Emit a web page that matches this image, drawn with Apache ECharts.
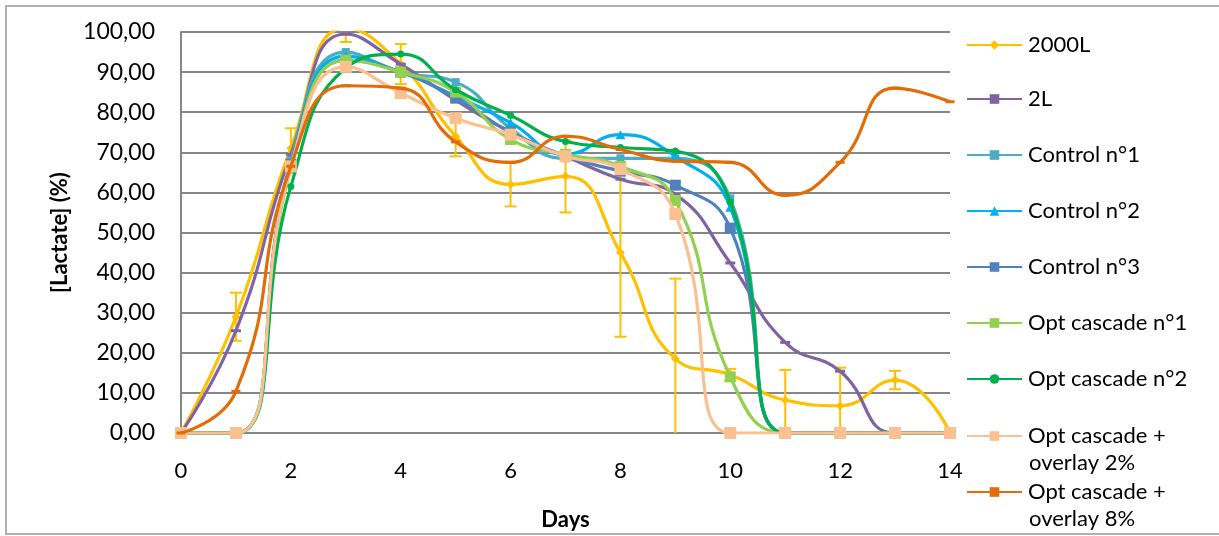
<!DOCTYPE html>
<html>
<head>
<meta charset="utf-8">
<script src="https://cdn.jsdelivr.net/npm/echarts@6/dist/echarts.min.js"></script>
<style>html,body{margin:0;padding:0;background:#fff}#c{width:1219px;height:536px}</style>
</head>
<body>
<div id="c"></div>
<script>
const days = [0,1,2,3,4,5,6,7,8,9,10,11,12,13,14];
const xTicks = [0,2,4,6,8,10,12,14];
const seriesNames = ['2000L','2L','Control n°1','Control n°2','Control n°3','Opt cascade n°1','Opt cascade n°2','Opt cascade +\noverlay 2%','Opt cascade +\noverlay 8%'];
const v2000L   = [0,29,71,101,92,74,62,64,45,18.5,14.5,8.2,6.8,13.2,0];
const err2000L = [0,6,5,3.5,5,5,5.5,9,21,20,1.5,7.5,9.5,2.3,0];
const v2L      = [0,25.5,69.5,99.5,92,83,75,69,63.3,59.5,42.4,22.6,15.4,0,0];
const vCtrl1   = [0,0,68,95,90,87.5,76,68.5,68.5,68.5,58.5,0,0,0,0];
const vCtrl2   = [0,0,67,94,90,84,77.4,69.5,74.4,69,56.3,0,0,0,0];
const vCtrl3   = [0,0,67,93,90,83.5,75,69,65.3,61.8,51.1,0,0,0,0];
const vOpt1    = [0,0,66,93,90,85,73.2,69.5,66.5,58,14,0,0,0,0];
const vOpt2    = [0,0,61.5,91,94.5,85.6,79.2,72.7,71.2,70.3,57.6,0,0,0,0];
const vOvl2    = [0,0,66.5,91.3,84.8,78.5,74.4,69,65.8,54.6,0,0,0,0,0];
const vOvl8    = [0,10.4,66.5,86.6,86,72.6,67.5,74,70.7,67.8,67.5,59.3,67.5,86,82.6];

const colors = ['#FFC000','#8064A2','#4BACC6','#00B0F0','#4F81BD','#92D050','#00B050','#FAC090','#E36C09'];
const values = [v2000L,v2L,vCtrl1,vCtrl2,vCtrl3,vOpt1,vOpt2,vOvl2,vOvl8];
const symbols = ['diamond','rect','rect','triangle','rect','rect','circle','rect','rect'];
const symSizes = [[9,9],[10,3],[8,8],[10,9],[11,11],[11,11],[7,7],[12,12],[9,3]];

const FONT = 'Lato';
const pairs = v => days.map((d,i)=>[d, v[i]]);

const series = values.map((v,i)=>({
  name: seriesNames[i].replace('\n',' '),
  type: 'line',
  smooth: 0.5,
  data: pairs(v),
  symbol: symbols[i],
  symbolSize: symSizes[i],
  showSymbol: true,
  color: colors[i],
  lineStyle: {width: 3.2, color: colors[i]},
  itemStyle: {color: colors[i]},
  z: 3 + i,
  emphasis: {disabled: true}
}));

series.push({
  name: 'err',
  type: 'custom',
  z: 2,
  data: days.map((d,i)=>[d, v2000L[i]-err2000L[i], v2000L[i]+err2000L[i]]).filter((r,i)=>err2000L[i]>0),
  renderItem: function(params, api){
    const x = api.value(0);
    const loRaw = api.value(1), hiRaw = api.value(2);
    const lo = api.coord([x, Math.max(loRaw,0)]);
    const hi = api.coord([x, Math.min(hiRaw,100)]);
    const c = [];
    const st = {stroke:'#FFC000', lineWidth: 2};
    c.push({type:'line', shape:{x1:lo[0],y1:lo[1],x2:hi[0],y2:hi[1]}, style:st});
    if (hiRaw <= 100) c.push({type:'line', shape:{x1:hi[0]-6,y1:hi[1],x2:hi[0]+6,y2:hi[1]}, style:st});
    if (loRaw >= 0) c.push({type:'line', shape:{x1:lo[0]-6,y1:lo[1],x2:lo[0]+6,y2:lo[1]}, style:st});
    return {type:'group', children:c};
  },
  silent: true
});

const legendCenters = [47,101,157,213,269,325,381,438,494];
const legends = seriesNames.map((n,i)=>({
  data: [n.replace('\n',' ')],
  left: 966,
  top: legendCenters[i]-13,
  orient: 'vertical',
  padding: 0,
  itemWidth: 55,
  itemHeight: 12,
  itemGap: 6,
  formatter: () => n.split('\n')[0],
  textStyle: {fontFamily: FONT, fontSize: 22, color:'#000', padding:[0,0,0,1]},
  selectedMode: false
}));

const chart = echarts.init(document.getElementById('c'));
chart.setOption({
  animation: false,
  backgroundColor: '#fff',
  grid: {left: 181, right: 269, top: 32, bottom: 101},
  xAxis: {
    type: 'value', min: 0, max: 14, interval: 2,
    name: 'Days', nameLocation: 'middle', nameGap: 76,
    nameTextStyle: {fontFamily: FONT, fontSize: 22, fontWeight: 'bold', color:'#000'},
    axisLine: {show: false},
    axisTick: {show: false},
    splitLine: {show: false},
    axisLabel: {fontFamily: FONT, fontSize: 22, color:'#000', margin: 27,
      customValues: xTicks}
  },
  yAxis: {
    type: 'value', min: 0, max: 100, interval: 10,
    name: '[Lactate] (%)', nameLocation: 'middle', nameGap: 110,
    nameTextStyle: {fontFamily: FONT, fontSize: 22, fontWeight: 'bold', color:'#000'},
    axisLine: {show: true, lineStyle: {color:'#868686', width: 2}},
    axisTick: {show: false},
    splitLine: {show: true, lineStyle: {color:'#868686', width: 2}},
    axisLabel: {fontFamily: FONT, fontSize: 23, color:'#000', margin: 26,
      formatter: v => v.toFixed(2).replace('.', ',')}
  },
  legend: legends,
  series: series,
  graphic: [
    {type:'rect', shape:{x:6,y:6,width:1240,height:528}, style:{fill:'none', stroke:'#b0b0b0', lineWidth:2}, silent:true, z:-1},
    {type:'text', left: 1029, top: 452, style:{text:'overlay 2%', font:'22px Lato', fill:'#000'}},
    {type:'text', left: 1029, top: 508, style:{text:'overlay 8%', font:'22px Lato', fill:'#000'}}
  ]
});
</script>
</body>
</html>
